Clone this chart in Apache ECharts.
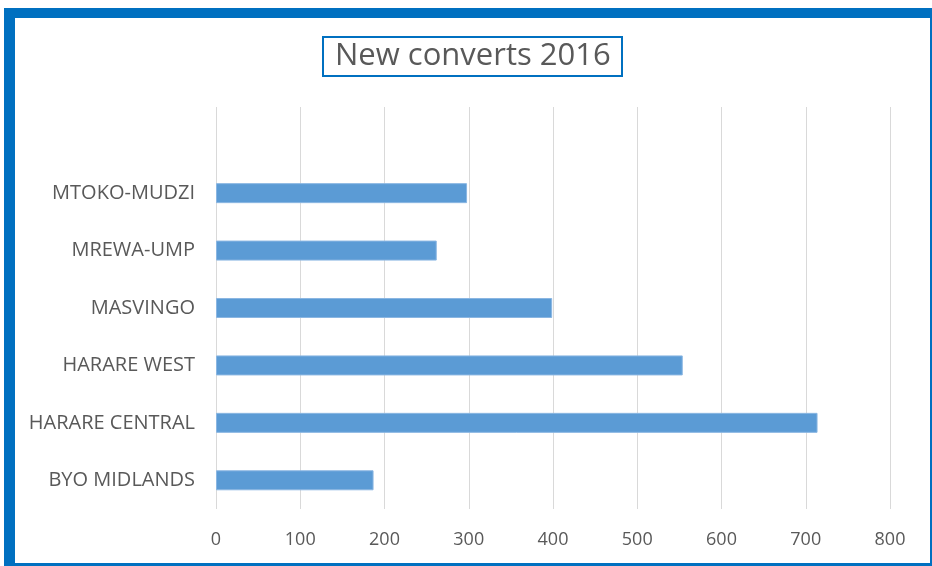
<!DOCTYPE html>
<html>
<head>
<meta charset="utf-8">
<script src="https://cdn.jsdelivr.net/npm/echarts@6/dist/echarts.min.js"></script>
<style>
html,body{margin:0;padding:0;background:#fff;}
#c{width:932px;height:566px;}
</style>
</head>
<body>
<div id="c"></div>
<script>
const titleText = 'New converts 2016';
const categories = ['BYO MIDLANDS', 'HARARE CENTRAL', 'HARARE WEST', 'MASVINGO', 'MREWA-UMP', 'MTOKO-MUDZI', ''];
const converts = [187, 714, 554, 399, 262, 298, null];
const xTicks = { min: 0, max: 800, interval: 100 };

const chart = echarts.init(document.getElementById('c'));
const FONT = '"Open Sans", "Noto Sans", sans-serif';
const BLUE = '#0070c0';
chart.setOption({
  animation: false,
  backgroundColor: '#ffffff',
  title: {
    text: titleText,
    left: 323,
    top: 37,
    padding: [4, 12, 4, 12],
    borderColor: BLUE,
    borderWidth: 2,
    textStyle: { fontFamily: FONT, fontSize: 31, fontWeight: 'normal', color: '#595959' }
  },
  grid: { left: 216, right: 42, top: 107, bottom: 57, containLabel: false },
  xAxis: {
    type: 'value',
    min: xTicks.min, max: xTicks.max, interval: xTicks.interval,
    axisLine: { show: false },
    axisTick: { show: false },
    axisLabel: { fontFamily: FONT, fontSize: 18, color: '#595959', margin: 22 },
    splitLine: { show: true, lineStyle: { color: '#d9d9d9', width: 1 } }
  },
  yAxis: {
    type: 'category',
    data: categories,
    axisLine: { show: false },
    axisTick: { show: false },
    axisLabel: { fontFamily: FONT, fontSize: 20, color: '#595959', margin: 21 },
    splitLine: { show: false }
  },
  series: [{
    type: 'bar',
    data: converts,
    barWidth: 20,
    itemStyle: { color: '#5b9bd5', borderColor: '#8ab6e2', borderWidth: 1 }
  }],
  graphic: [
    { type: 'rect', shape: { x: 4, y: 8, width: 928, height: 10 }, style: { fill: BLUE }, silent: true, z: 100 },
    { type: 'rect', shape: { x: 4, y: 8, width: 11, height: 558 }, style: { fill: BLUE }, silent: true, z: 100 },
    { type: 'rect', shape: { x: 930, y: 8, width: 2, height: 558 }, style: { fill: BLUE }, silent: true, z: 100 },
    { type: 'rect', shape: { x: 4, y: 563, width: 928, height: 3 }, style: { fill: BLUE }, silent: true, z: 100 }
  ]
});
</script>
</body>
</html>
